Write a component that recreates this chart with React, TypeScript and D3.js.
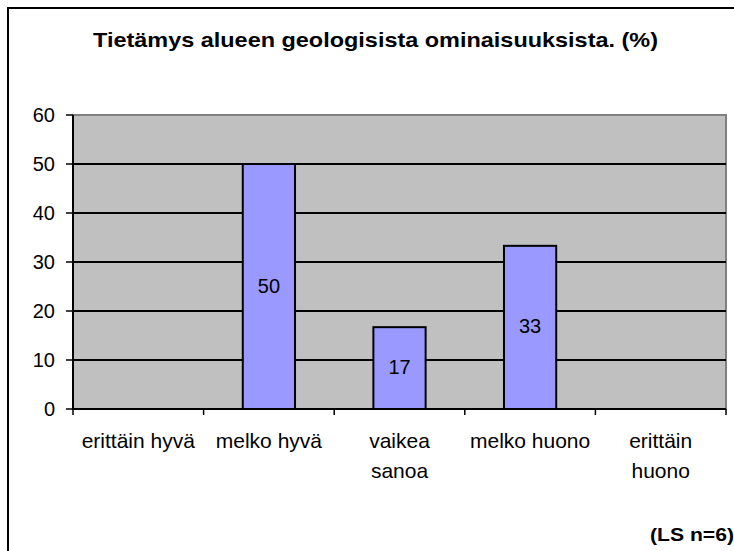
import React from "react";
import * as d3 from "d3";

const width = 734;
const height = 551;

const categories = ["erittäin hyvä", "melko hyvä", "vaikea sanoa", "melko huono", "erittäin huono"];
// x labels broken into lines like in the original
const categoryLines = [["erittäin hyvä"], ["melko hyvä"], ["vaikea", "sanoa"], ["melko huono"], ["erittäin", "huono"]];
const values = [0, 50, 16.7, 33.3, 0];
const valueLabels = ["", "50", "17", "33", ""];
const yTicks = [0, 10, 20, 30, 40, 50, 60];

const title = "Tietämys alueen geologisista ominaisuuksista. (%)";
const note = "(LS n=6)";

const plot = { left: 73, right: 726, top: 115, bottom: 409 };
const font = "'Liberation Sans', Arial, sans-serif";

export default function App() {
  const x = d3.scaleBand().domain(categories).range([plot.left, plot.right]).paddingInner(0).paddingOuter(0);
  const y = d3.scaleLinear().domain([0, 60]).range([plot.bottom, plot.top]);
  const barW = x.bandwidth() * 0.4;

  return (
    <svg width={width} height={height} style={{ position: "absolute", left: 0, top: 0 }} fontFamily={font}>
      <rect x={0} y={0} width={width} height={height} fill="#fff" />
      {/* outer chart border, runs off the right and bottom edges */}
      <rect x={8} y={8} width={740} height={560} fill="none" stroke="#000" strokeWidth={2} />

      <text x={93} y={47} fontSize={21} fontWeight="bold" textLength={565} lengthAdjust="spacingAndGlyphs">
        {title}
      </text>

      {/* plot area */}
      <rect x={plot.left} y={plot.top} width={plot.right - plot.left} height={plot.bottom - plot.top} fill="#c0c0c0" stroke="#808080" strokeWidth={2} />

      {yTicks.filter(t => t > 0 && t < 60).map(t => (
        <line key={t} x1={plot.left} x2={plot.right} y1={y(t)} y2={y(t)} stroke="#000" strokeWidth={2} />
      ))}

      {categories.map((c, i) => {
        const v = values[i];
        if (!v) return null;
        const cx = x(c)! + x.bandwidth() / 2;
        return (
          <g key={c}>
            <rect x={cx - barW / 2} y={y(v)} width={barW} height={y(0) - y(v)} fill="#9999ff" stroke="#000" strokeWidth={2} />
            <text x={cx} y={(y(v) + y(0)) / 2 + 6} textAnchor="middle" fontSize={20}>
              {valueLabels[i]}
            </text>
          </g>
        );
      })}

      {/* y axis */}
      <line x1={plot.left} x2={plot.left} y1={plot.top} y2={plot.bottom} stroke="#000" strokeWidth={2} />
      {yTicks.map(t => (
        <g key={t}>
          <line x1={plot.left - 7} x2={plot.left} y1={y(t)} y2={y(t)} stroke="#000" strokeWidth={1.5} />
          <text x={55} y={y(t) + 7} textAnchor="end" fontSize={20}>
            {t}
          </text>
        </g>
      ))}

      {/* x axis */}
      <line x1={plot.left} x2={plot.right} y1={plot.bottom} y2={plot.bottom} stroke="#000" strokeWidth={2} />
      {[...categories.map(c => x(c)!), plot.right].map((px, i) => (
        <line key={i} x1={px} x2={px} y1={plot.bottom} y2={plot.bottom + 6} stroke="#000" strokeWidth={1.5} />
      ))}
      {categories.map((c, i) => (
        <text key={c} textAnchor="middle" fontSize={21}>
          {categoryLines[i].map((line, j) => (
            <tspan key={j} x={x(c)! + x.bandwidth() / 2} y={448 + j * 30}>
              {line}
            </tspan>
          ))}
        </text>
      ))}

      <text x={650} y={541} fontSize={18} fontWeight="bold" textLength={84} lengthAdjust="spacingAndGlyphs">
        {note}
      </text>
    </svg>
  );
}
